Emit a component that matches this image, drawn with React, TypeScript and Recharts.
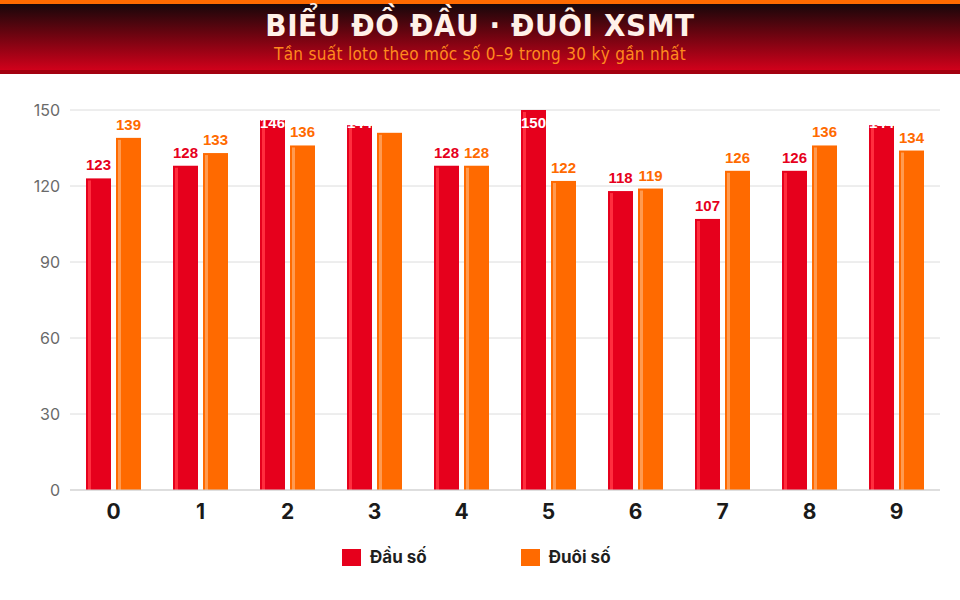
import { BarChart, Bar, XAxis, YAxis, CartesianGrid } from "recharts";

const digits = ["0", "1", "2", "3", "4", "5", "6", "7", "8", "9"];
const dauSo = [123, 128, 146, 144, 128, 150, 118, 107, 126, 144];
const duoiSo = [139, 133, 136, 141, 128, 122, 119, 126, 136, 134];
const yTicks = [0, 30, 60, 90, 120, 150];

const RED = "#e6001c";
const ORANGE = "#ff6a00";

const data = digits.map((d, i) => ({ d, dau: dauSo[i], duoi: duoiSo[i] }));

function makeShape(fill: string, light: string) {
  return (p: any) => {
    const { x, y, width, height } = p;
    if (!height || height <= 0) return null;
    return (
      <g>
        <rect x={x} y={y} width={width} height={height} fill={fill} />
        <rect x={x + 2} y={y + 2} width={3} height={Math.max(0, height - 2)} fill={light} />
      </g>
    );
  };
}

function makeLabel(color: string) {
  return (p: any) => {
    const { x, y, width, value } = p;
    let ty = y - 8;
    let fill = color;
    // labels near the top are clamped and turn white
    if (ty < 54) {
      ty = 54;
      fill = "#ffffff";
    }
    return (
      <text
        x={x + width / 2}
        y={ty}
        textAnchor="middle"
        fill={fill}
        fontSize={15}
        fontWeight={700}
        fontFamily="'Liberation Sans', Arial, sans-serif"
      >
        {value}
      </text>
    );
  };
}

function LegendItem({ color, label }: { color: string; label: string }) {
  return (
    <div style={{ display: "flex", alignItems: "center", gap: 9 }}>
      <div style={{ width: 19, height: 17, background: color }} />
      <span style={{ fontFamily: "Inter, sans-serif", fontWeight: 700, fontSize: 17, color: "#1f1f1f" }}>{label}</span>
    </div>
  );
}

export default function App() {
  return (
    <div style={{ position: "absolute", left: 0, top: 0, width: 960, height: 600, background: "#fff", overflow: "hidden" }}>
      <div style={{ height: 4, background: ORANGE }} />
      <div
        style={{
          height: 66,
          background: "linear-gradient(to bottom, #17070a 0%, #6a0410 45%, #d0011b 100%)",
          textAlign: "center",
          boxSizing: "border-box",
          paddingTop: 3,
        }}
      >
        <div
          style={{
            fontFamily: "'DejaVu Sans Condensed', sans-serif",
            fontWeight: 700,
            fontSize: 31,
            color: "#fff1e8",
            lineHeight: "36px",
            letterSpacing: 0.6,
          }}
        >
          BIỂU ĐỒ ĐẦU · ĐUÔI XSMT
        </div>
        <div
          style={{
            fontFamily: "'DejaVu Sans Condensed', sans-serif",
            fontSize: 17,
            color: "#ff8a1e",
            lineHeight: "22px",
            marginTop: 0,
            letterSpacing: 0.3,
          }}
        >
          Tần suất loto theo mốc số 0–9 trong 30 kỳ gần nhất
        </div>
      </div>
      <div style={{ height: 4, background: "#a3000f" }} />
      <BarChart
        width={960}
        height={470}
        data={data}
        margin={{ top: 36, right: 20, bottom: 0, left: 8 }}
        barCategoryGap={16}
        barGap={5}
      >
        <CartesianGrid vertical={false} stroke="#dcdcdc" />
        <XAxis
          dataKey="d"
          height={54}
          tickLine={false}
          axisLine={{ stroke: "#cfcfcf" }}
          tick={{ fontSize: 21, fontWeight: 700, fill: "#1a1a1a", fontFamily: "Inter, sans-serif" }}
          tickMargin={8}
        />
        <YAxis
          width={62}
          domain={[0, 150]}
          ticks={yTicks}
          axisLine={false}
          tickLine={false}
          tick={{ fontSize: 16, fill: "#6a6a6a", fontFamily: "Inter, sans-serif" }}
          tickMargin={4}
        />
        <Bar dataKey="dau" name="Đầu số" fill={RED} barSize={25} isAnimationActive={false}
          shape={makeShape(RED, "#ff2e3e")} label={makeLabel(RED)} />
        <Bar dataKey="duoi" name="Đuôi số" fill={ORANGE} barSize={25} isAnimationActive={false}
          shape={makeShape(ORANGE, "#ff9a50")} label={makeLabel(ORANGE)} />
      </BarChart>
      <div style={{ position: "absolute", top: 547, left: 342, display: "flex", gap: 94 }}>
        <LegendItem color={RED} label="Đầu số" />
        <LegendItem color={ORANGE} label="Đuôi số" />
      </div>
    </div>
  );
}
